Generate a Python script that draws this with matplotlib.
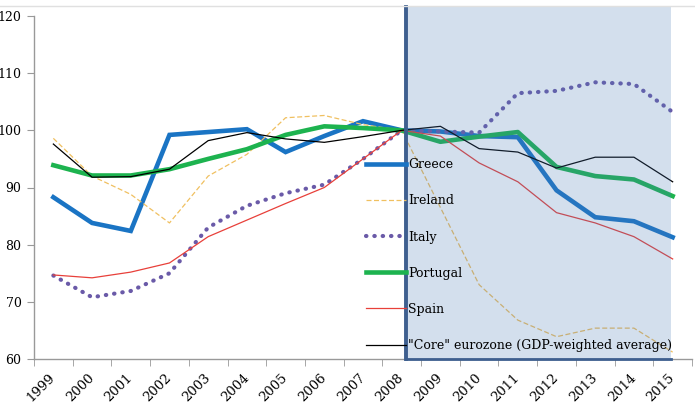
import matplotlib
matplotlib.use("Agg")
import matplotlib.pyplot as plt
from matplotlib.patches import Rectangle
from matplotlib.lines import Line2D

# Data (index, 2008 = 100)
years = [str(y) for y in range(1999, 2016)]
greece = [88.3, 83.8, 82.4, 99.2, 99.7, 100.2, 96.2, 99.0, 101.6, 100.0, 99.8, 99.0, 98.8, 89.5, 84.8, 84.1, 81.3]
ireland = [98.6, 92.0, 88.8, 83.8, 92.0, 95.8, 102.2, 102.6, 101.0, 100.0, 86.5, 73.0, 66.8, 63.9, 65.4, 65.4, 61.2]
italy = [74.6, 70.8, 71.9, 75.0, 83.0, 86.8, 89.0, 90.5, 95.0, 100.0, 99.8, 99.6, 106.5, 106.9, 108.4, 108.1, 103.2]
portugal = [93.9, 92.1, 92.1, 93.2, 95.0, 96.7, 99.2, 100.7, 100.4, 100.0, 98.0, 98.9, 99.7, 93.6, 92.0, 91.4, 88.5]
spain = [74.7, 74.2, 75.2, 76.8, 81.4, 84.3, 87.2, 90.0, 95.0, 100.0, 99.0, 94.3, 91.0, 85.6, 83.8, 81.4, 77.5]
core = [97.6, 91.8, 91.9, 93.2, 98.2, 99.6, 98.5, 97.9, 98.9, 100.0, 100.7, 96.8, 96.2, 93.4, 95.3, 95.3, 91.0]
yticks = [60, 70, 80, 90, 100, 110, 120]

plt.rcParams['font.family'] = ['DejaVu Serif']

fig = plt.figure(figsize=(6.95, 4.03), dpi=100)
ax = fig.add_axes([34 / 695, 1 - 359 / 403, (692 - 34) / 695, (359 - 16) / 403])

x = list(range(len(years)))
ax.plot(x, greece, color='#1a74c4', lw=3.3, label='Greece', solid_joinstyle='miter')
ax.plot(x, ireland, color='#f0c060', lw=0.9, ls=(0, (4, 2)), label='Ireland')
ax.plot(x, italy, color='#6a5aa8', lw=3.0, ls=(0, (0.1, 1.9)), dash_capstyle='round', label='Italy')
ax.plot(x, portugal, color='#1db34f', lw=3.3, label='Portugal')
ax.plot(x, spain, color='#e8403a', lw=0.9, label='Spain')
ax.plot(x, core, color='black', lw=0.9, label='"Core" eurozone (GDP-weighted average)')

# shaded crisis period
i0 = years.index('2008')
i1 = years.index('2015')
ax.add_patch(Rectangle((i0 + 0.1, 60), i1 - i0 - 0.15, 121.5 - 60, facecolor='#4a7ab5', alpha=0.24,
                       edgecolor='none', zorder=5, clip_on=False))
ax.add_line(Line2D([i0 + 0.1, i0 + 0.1], [60, 121.5], color='#3e5f8f', lw=2.8, zorder=6, clip_on=False))
ax.add_line(Line2D([i0 + 0.1, i1 - 0.05], [60, 60], color='#3e5f8f', lw=2.0, zorder=6, clip_on=False))

ax.set_xlim(-0.5, len(years) - 0.5)
ax.set_ylim(60, 120)
ax.set_yticks(yticks)
ax.set_yticklabels([str(v) for v in yticks], fontsize=9)
ax.set_xticks(x)
ax.set_xticklabels(years, rotation=45, ha='right', va='center', rotation_mode='anchor', fontsize=9.5)
ax.set_xticks([i - 0.5 for i in range(len(years) + 1)], minor=True)
ax.tick_params(axis='x', which='major', length=0, pad=12)
ax.tick_params(axis='x', which='minor', length=5, color='#999999')
ax.tick_params(axis='y', length=5, color='#999999', pad=4)

for s in ['top', 'right']:
    ax.spines[s].set_visible(False)
for s in ['left', 'bottom']:
    ax.spines[s].set_color('#999999')
    ax.spines[s].set_linewidth(1.0)

leg = ax.legend(loc='upper left', bbox_to_anchor=(360 / 695, 1 - 152 / 403),
                bbox_transform=fig.transFigure, frameon=False, fontsize=9,
                handlelength=3.2, handletextpad=0.15, labelspacing=1.85, borderpad=0)
leg.set_zorder(10)

# thin frame line at top of picture
fig.add_artist(Line2D([0, 1], [1 - 6 / 403, 1 - 6 / 403], color='#e0e0e0', lw=1.0))

fig.savefig('out.png', dpi=100)
